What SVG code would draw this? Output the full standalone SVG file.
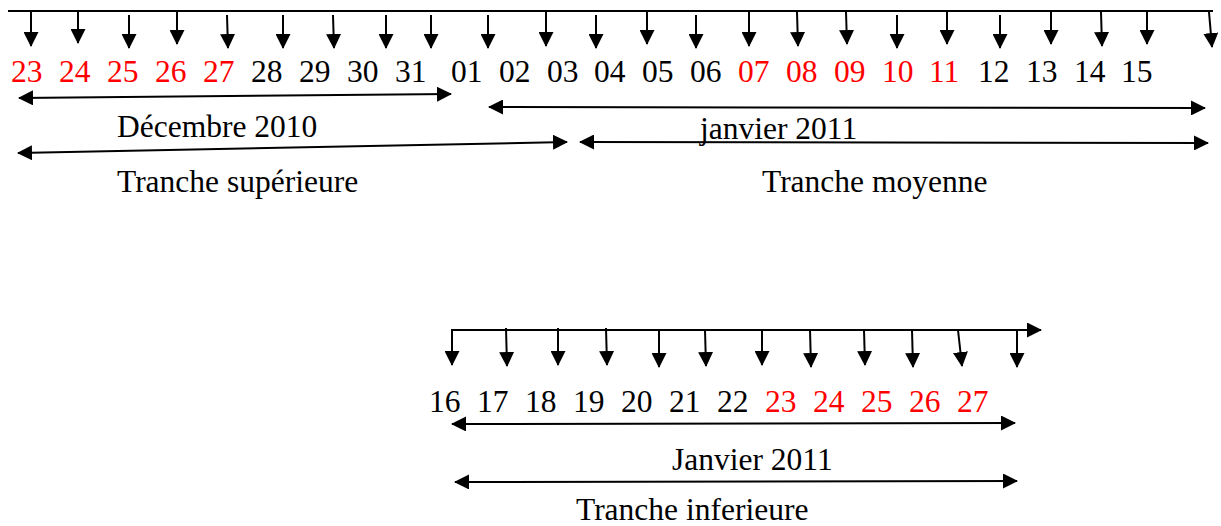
<svg xmlns="http://www.w3.org/2000/svg" width="1221" height="526" viewBox="0 0 1221 526">
<style>
text{font-family:"Liberation Serif","Times New Roman",serif;font-size:31.5px;fill:#000}
text.r{fill:#ff0000}
.ln{stroke:#000;stroke-width:2;fill:none}
.dn{stroke:#000;stroke-width:2;fill:none;marker-end:url(#ah)}
.dbl{stroke:#000;stroke-width:2;fill:none;marker-start:url(#ah);marker-end:url(#ah)}
.one{stroke:#000;stroke-width:2;fill:none;marker-end:url(#ah)}
</style>
<defs>
<marker id="ah" viewBox="0 0 15 15" refX="14" refY="7.5" markerWidth="15" markerHeight="15" markerUnits="userSpaceOnUse" orient="auto-start-reverse"><path d="M0,0 L15,7.5 L0,15 z" fill="#000"/></marker>
</defs>
<rect width="1221" height="526" fill="#fff"/>
<g id="connectors">
<line class="ln" x1="8" y1="11" x2="1213" y2="11"/>
<line class="dn" x1="31" y1="12" x2="31" y2="46"/>
<line class="dn" x1="78" y1="12" x2="78" y2="43"/>
<line class="dn" x1="129" y1="15" x2="129" y2="48"/>
<line class="dn" x1="177" y1="12" x2="177" y2="44"/>
<line class="dn" x1="227" y1="15" x2="228" y2="48"/>
<line class="dn" x1="283" y1="15" x2="283" y2="48"/>
<line class="dn" x1="333" y1="15" x2="334" y2="48"/>
<line class="dn" x1="386" y1="15" x2="386" y2="48"/>
<line class="dn" x1="431" y1="15" x2="431" y2="48"/>
<line class="dn" x1="488" y1="15" x2="488" y2="48"/>
<line class="dn" x1="546" y1="12" x2="546" y2="46"/>
<line class="dn" x1="596" y1="15" x2="596" y2="48"/>
<line class="dn" x1="647" y1="12" x2="647" y2="44"/>
<line class="dn" x1="696" y1="15" x2="696" y2="48"/>
<line class="dn" x1="749" y1="12" x2="749" y2="46"/>
<line class="dn" x1="797" y1="12" x2="798" y2="46"/>
<line class="dn" x1="846" y1="12" x2="847" y2="44"/>
<line class="dn" x1="897" y1="15" x2="897" y2="48"/>
<line class="dn" x1="947" y1="12" x2="947" y2="44"/>
<line class="dn" x1="1000" y1="15" x2="1000" y2="48"/>
<line class="dn" x1="1051" y1="12" x2="1051" y2="44"/>
<line class="dn" x1="1101" y1="12" x2="1102" y2="46"/>
<line class="dn" x1="1147" y1="12" x2="1147" y2="44"/>
<line class="dn" x1="1209" y1="12" x2="1212" y2="47"/>
<line class="dbl" x1="19" y1="98" x2="451" y2="94"/>
<line class="dbl" x1="489" y1="107" x2="1205" y2="108"/>
<line class="dbl" x1="18" y1="153" x2="567" y2="142"/>
<line class="dbl" x1="580" y1="142" x2="1208" y2="143"/>
<path class="dn" d="M452,365 L452,330 L1041,330" style="marker-end:url(#ah);marker-start:url(#ah)"/>
<line class="dn" x1="506" y1="328" x2="507" y2="366"/>
<line class="dn" x1="558" y1="328" x2="558" y2="365"/>
<line class="dn" x1="606" y1="328" x2="607" y2="365"/>
<line class="dn" x1="659" y1="330" x2="659" y2="367"/>
<line class="dn" x1="705" y1="330" x2="706" y2="366"/>
<line class="dn" x1="762" y1="330" x2="762" y2="365"/>
<line class="dn" x1="810" y1="330" x2="811" y2="367"/>
<line class="dn" x1="864" y1="330" x2="865" y2="365"/>
<line class="dn" x1="912" y1="330" x2="913" y2="367"/>
<line class="dn" x1="958" y1="330" x2="962" y2="366"/>
<line class="dn" x1="1017" y1="330" x2="1017" y2="367"/>
<line class="dbl" x1="452" y1="424" x2="1015" y2="423"/>
<line class="dbl" x1="455" y1="482" x2="1017" y2="481"/>
</g>
<g id="d23"><text class="r" x="11" y="82">23</text></g>
<g id="d24"><text class="r" x="59" y="82">24</text></g>
<g id="d25"><text class="r" x="107" y="82">25</text></g>
<g id="d26"><text class="r" x="155" y="82">26</text></g>
<g id="d27"><text class="r" x="203" y="82">27</text></g>
<g id="d28"><text x="251" y="82">28</text></g>
<g id="d29"><text x="299" y="82">29</text></g>
<g id="d30"><text x="347" y="82">30</text></g>
<g id="d31"><text x="395" y="82">31</text></g>
<g id="j01"><text x="451" y="82">01</text></g>
<g id="j02"><text x="499" y="82">02</text></g>
<g id="j03"><text x="547" y="82">03</text></g>
<g id="j04"><text x="594" y="82">04</text></g>
<g id="j05"><text x="642" y="82">05</text></g>
<g id="j06"><text x="690" y="82">06</text></g>
<g id="j07"><text class="r" x="738" y="82">07</text></g>
<g id="j08"><text class="r" x="786" y="82">08</text></g>
<g id="j09"><text class="r" x="834" y="82">09</text></g>
<g id="j10"><text class="r" x="882" y="82">10</text></g>
<g id="j11"><text class="r" x="929" y="82">11</text></g>
<g id="j12"><text x="978" y="82">12</text></g>
<g id="j13"><text x="1026" y="82">13</text></g>
<g id="j14"><text x="1074" y="82">14</text></g>
<g id="j15"><text x="1121" y="82">15</text></g>
<g id="lbl-dec"><text x="117" y="137">Décembre 2010</text></g>
<g id="lbl-jan"><text x="700" y="139">janvier 2011</text></g>
<g id="lbl-sup"><text x="117" y="192">Tranche supérieure</text></g>
<g id="lbl-moy"><text x="762" y="192">Tranche moyenne</text></g>
<g id="j16"><text x="429" y="412">16</text></g>
<g id="j17"><text x="477" y="412">17</text></g>
<g id="j18"><text x="525" y="412">18</text></g>
<g id="j19"><text x="573" y="412">19</text></g>
<g id="j20"><text x="621" y="412">20</text></g>
<g id="j21"><text x="669" y="412">21</text></g>
<g id="j22"><text x="717" y="412">22</text></g>
<g id="j23"><text class="r" x="765" y="412">23</text></g>
<g id="j24"><text class="r" x="813" y="412">24</text></g>
<g id="j25"><text class="r" x="861" y="412">25</text></g>
<g id="j26"><text class="r" x="909" y="412">26</text></g>
<g id="j27"><text class="r" x="957" y="412">27</text></g>
<g id="lbl-jan2"><text x="672" y="470">Janvier 2011</text></g>
<g id="lbl-inf"><text x="576" y="520">Tranche inferieure</text></g>
</svg>
